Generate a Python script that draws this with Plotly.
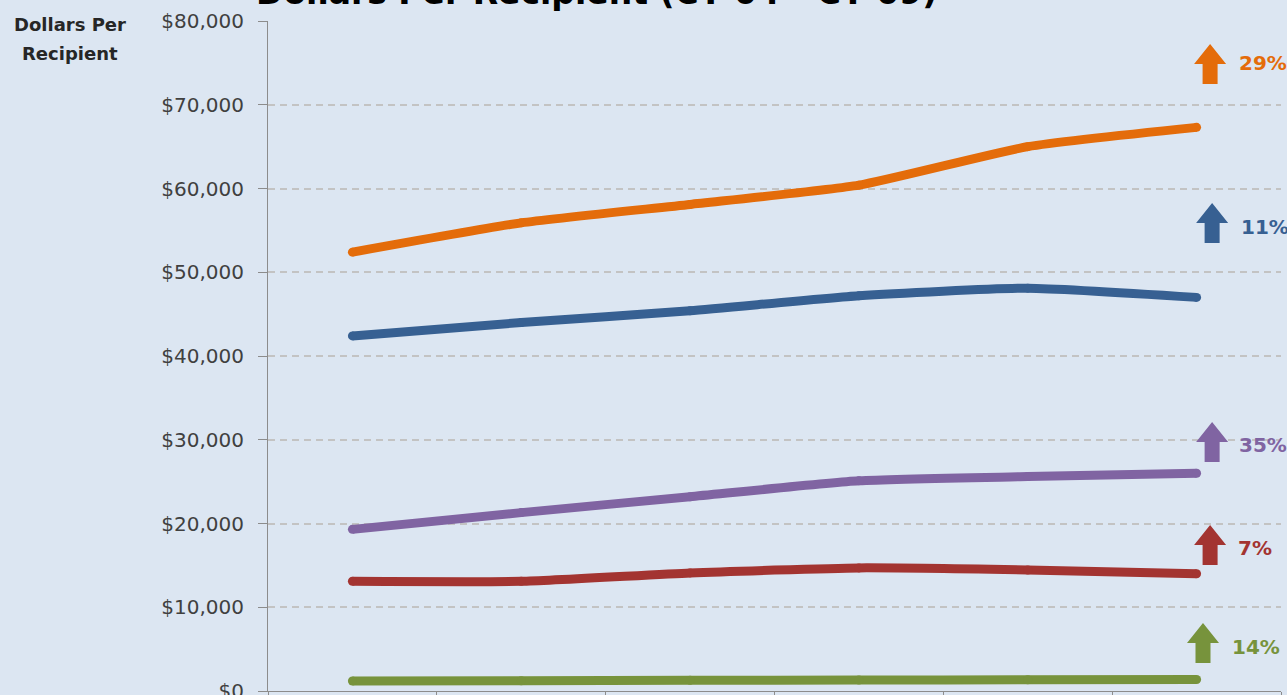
import plotly.graph_objects as go

categories = ["CY 04", "CY 05", "CY 06", "CY 07", "CY 08", "CY 09"]

orange_vals = [52400, 55900, 58100, 60400, 65000, 67300]
blue_vals = [42400, 44000, 45400, 47200, 48100, 47000]
purple_vals = [19300, 21300, 23200, 25100, 25600, 26000]
red_vals = [13100, 13100, 14100, 14700, 14450, 14000]
green_vals = [1200, 1230, 1270, 1300, 1340, 1370]

pct_labels = ["29%", "11%", "35%", "7%", "14%"]
series_names = ["Series 1", "Series 2", "Series 3", "Series 4", "Series 5"]
series_vals = [orange_vals, blue_vals, purple_vals, red_vals, green_vals]
colors = ["#E46C0A", "#376092", "#8064A2", "#A33431", "#77933C"]

y_ticks = [0, 10000, 20000, 30000, 40000, 50000, 60000, 70000, 80000]
y_tick_text = ["$0", "$10,000", "$20,000", "$30,000", "$40,000",
               "$50,000", "$60,000", "$70,000", "$80,000"]

BG = "#DCE6F2"

fig = go.Figure()
for name, vals, col in zip(series_names, series_vals, colors):
    fig.add_trace(go.Scatter(
        x=categories, y=vals, name=name, mode="lines+markers",
        line=dict(color=col, width=9, shape="spline", smoothing=0.5),
        marker=dict(color=col, size=9, line=dict(width=0)),
        showlegend=False, hoverinfo="skip"))

# arrows (pixel-sized shapes anchored at positions) and percentage labels
arrow_anchor_x = [0.930, 0.932, 0.932, 0.930, 0.923]
arrow_anchor_y = [72480, 53490, 27340, 15050, 3340]
label_x = [0.9566, 0.9585, 0.9566, 0.9556, 0.9497]
label_y = [74985, 55400, 29370, 17075, 5250]
arrow_path = "M -7.5,0 L 7.5,0 L 7.5,20 L 16,20 L 0,40 L -16,20 L -7.5,20 Z"

shapes = []
annotations = []
for ax_, ay_, lx, ly, col, txt in zip(arrow_anchor_x, arrow_anchor_y,
                                      label_x, label_y, colors, pct_labels):
    shapes.append(dict(type="path", xref="paper", yref="y",
                       xsizemode="pixel", ysizemode="pixel",
                       xanchor=ax_, yanchor=ay_, path=arrow_path,
                       fillcolor=col, line=dict(width=0), layer="above"))
    annotations.append(dict(xref="paper", yref="y", x=lx, y=ly, text=txt,
                            showarrow=False, xanchor="left", yanchor="middle",
                            font=dict(family="DejaVu Sans", size=20,
                                      color=col, weight="bold")))

annotations.append(dict(xref="paper", yref="paper", x=0.324, y=1.043,
                        text="Dollars Per Recipient (CY 04 - CY 09)",
                        showarrow=False, xanchor="center", yanchor="middle",
                        font=dict(family="DejaVu Sans", size=33, color="#000000",
                                  weight="bold")))
annotations.append(dict(xref="paper", yref="paper", x=-0.1955, y=0.9946,
                        text="Dollars Per", showarrow=False,
                        xanchor="center", yanchor="middle",
                        font=dict(family="DejaVu Sans", size=18, color="#262626",
                                  weight="bold")))
annotations.append(dict(xref="paper", yref="paper", x=-0.1955, y=0.9516,
                        text="Recipient", showarrow=False,
                        xanchor="center", yanchor="middle",
                        font=dict(family="DejaVu Sans", size=18, color="#262626",
                                  weight="bold")))

fig.update_layout(
    width=1287, height=695,
    margin=dict(l=268, r=6, t=21, b=4, autoexpand=False),
    paper_bgcolor=BG, plot_bgcolor=BG,
    shapes=shapes, annotations=annotations,
    xaxis=dict(type="category", range=[-0.5, 5.5], showgrid=False,
               showline=True, linecolor="#8C8C8C", linewidth=1,
               ticks="outside", tickson="boundaries", ticklen=6,
               tickcolor="#8C8C8C", automargin=False, showticklabels=False),
    yaxis=dict(range=[0, 80000], tickvals=y_ticks, ticktext=y_tick_text,
               showgrid=True, gridcolor="#C3C3C3", gridwidth=1.5,
               griddash="7px,5px", zeroline=False,
               showline=True, linecolor="#8C8C8C", linewidth=1,
               ticks="outside", ticklen=9, tickcolor="#8C8C8C",
               ticklabelstandoff=10, automargin=False,
               ticklabeloverflow="allow",
               tickfont=dict(family="DejaVu Sans", size=20, color="#404040")),
)

fig.write_html("out.html",
               config={"displayModeBar": False},
               post_script="document.body.style.margin='0';"
                           "document.body.style.padding='0';"
                           "document.body.style.overflow='hidden';"
                           "document.body.style.background='" + BG + "';")
